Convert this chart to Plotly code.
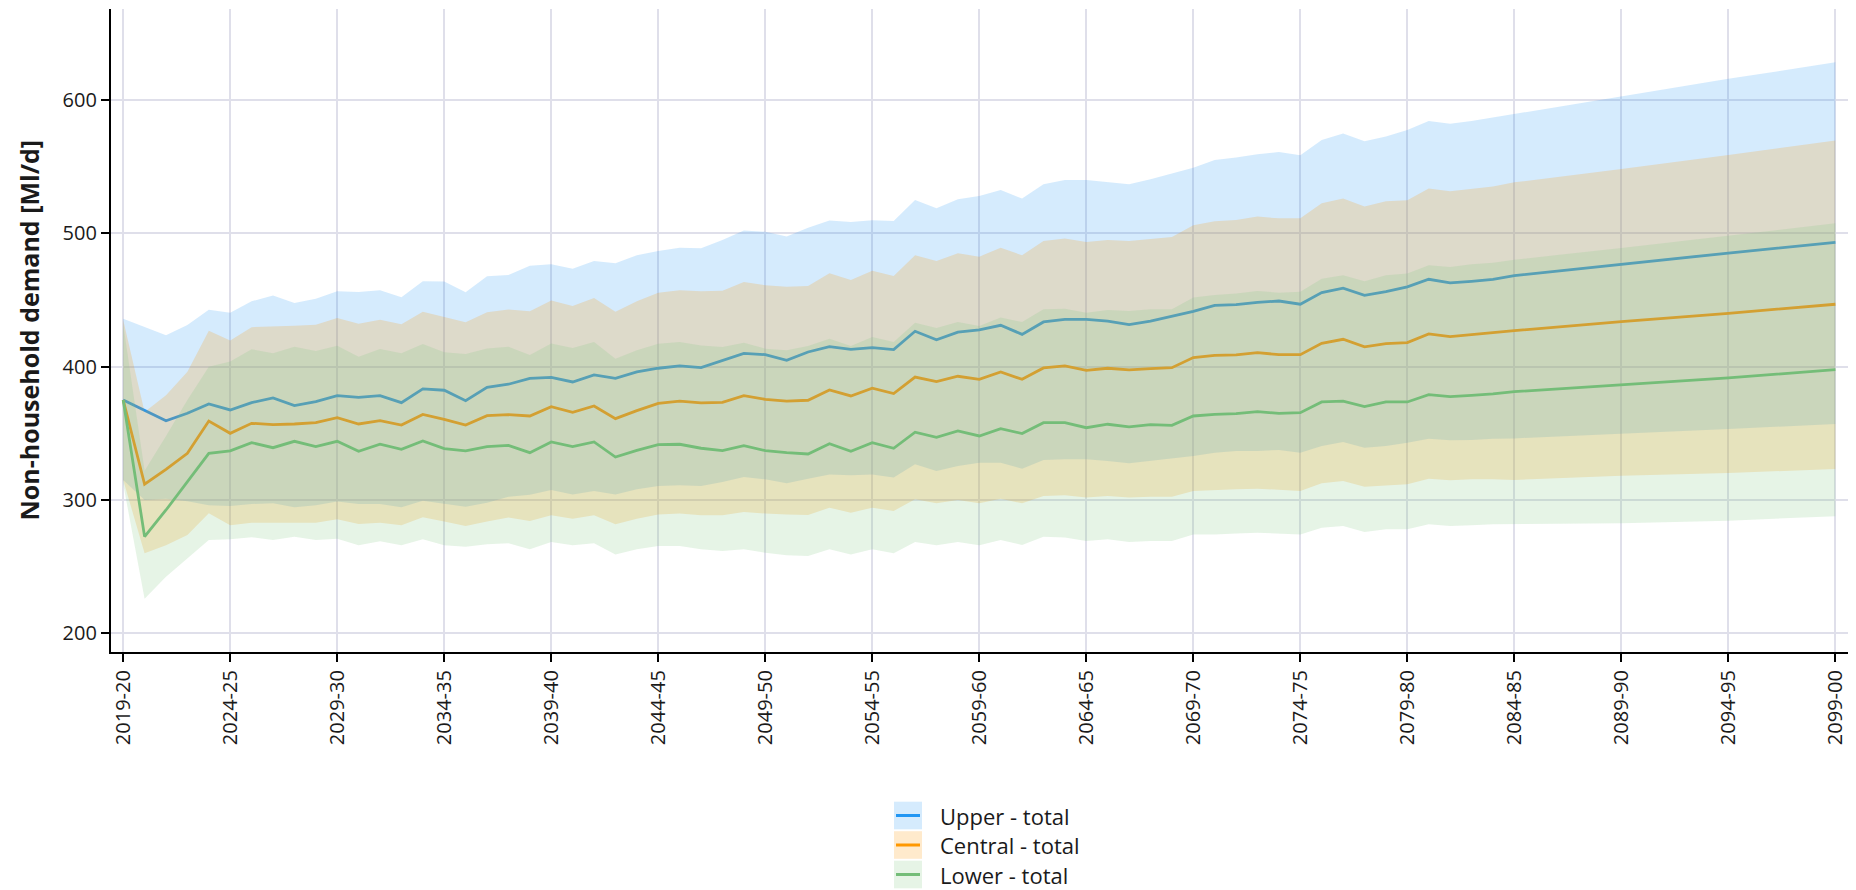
import plotly.graph_objects as go

# Start year of each water year: annual to 2083-84, then every fifth year
start_years = list(range(2019, 2084)) + [2084, 2089, 2094, 2099]

# Central estimates (Ml/d)
upper_total = [375, 367.4, 359.4, 365, 372, 367.5, 373, 376.5, 370.8, 373.7,
               378.2, 377, 378.2, 373, 383.3, 382.3, 374.5, 384.5, 386.8, 391.2,
               392, 388.5, 393.8, 391.2, 396, 398.8, 400.5, 399.2, 404.5, 410,
               409, 404.8, 411, 415, 413, 414.2, 412.8, 426.5, 420.2, 425.8,
               427.5, 431, 424.2, 433.5, 435.5, 435.5, 434.2, 431.5, 434.2, 438,
               441.5, 446, 446.5, 448.2, 449.2, 446.8, 455.5, 458.8, 453.5, 456.2,
               459.8, 465.5, 462.8, 464, 465.5,
               468.2, 476.8, 485.2, 493.2]
central_total = [375, 311.8, 323, 335, 359.2, 350, 357.5, 356.5, 357, 358,
                 361.8, 357, 359.5, 356.2, 364.2, 360.5, 356.2, 363.2, 364, 363,
                 370, 365.8, 370.5, 361, 367, 372.5, 374.2, 372.8, 373.2, 378.2,
                 375.5, 374.2, 374.8, 382.5, 378, 383.8, 379.8, 392.2, 388.8, 392.8,
                 390.5, 396, 390.5, 399, 400.5, 397.2, 398.8, 397.5, 398.5, 399.2,
                 406.8, 408.5, 408.8, 410.5, 409, 409, 417.5, 420.5, 414.8, 417.2,
                 418, 424.5, 422.5, 424, 425,
                 427, 433.8, 440, 446.8]
lower_total = [375, 272.5, 292.5, 313.8, 335, 336.8, 343, 339.2, 344, 340,
               344, 336.5, 341.8, 338, 344.2, 338.5, 336.8, 340, 341, 335.5,
               343.5, 340, 343.5, 332.2, 337.2, 341.5, 341.8, 338.8, 337, 340.8,
               337, 335.5, 334.5, 342.2, 336.5, 343, 338.8, 350.8, 347, 351.8,
               348, 353.5, 349.8, 358, 358, 354.2, 356.8, 354.8, 356.5, 356,
               363, 364.2, 364.8, 366.2, 365, 365.5, 373.5, 374.2, 370, 373.5,
               373.5, 379, 377.5, 378.5, 379.5,
               381.2, 386.2, 391.5, 397.8]

# Uncertainty bands (Ml/d)
upper_high = [436, 430, 423.5, 431.3, 442.6, 440.5, 449, 453.3, 447.7, 451,
              456.5, 456, 457.3, 452, 464, 463.8, 455.8, 467.8, 468.8, 475.7,
              476.8, 473.5, 479.2, 477.5, 483.5, 486.8, 489.2, 488.8, 495, 502,
              501.2, 497.5, 504.2, 509.5, 508.5, 509.8, 509.2, 525, 518.8, 525.5,
              528, 532.5, 526, 536.8, 540, 540, 538.5, 536.8, 540.5, 545,
              549.2, 555, 556.8, 559.2, 561, 558.5, 570, 574.8, 569, 572.5,
              577.5, 584.2, 582.2, 584.2, 586.8,
              589.5, 602.5, 615.8, 628.2]
upper_low = [315, 300, 301, 299, 296, 295.5, 297, 297.5, 294.5, 296,
             298.8, 297, 297, 294.5, 299.5, 297, 295, 298, 302.5, 304,
             307.5, 304.2, 306.8, 304.2, 308, 310.5, 311, 310.5, 313.5, 317.2,
             315.5, 312.5, 316, 319.2, 318.5, 319.2, 316.8, 326.8, 321.8, 325.5,
             328, 328, 323.5, 330, 330.5, 330.5, 329.2, 327.5, 329.2, 331,
             333, 335.5, 336.8, 336.8, 337.5, 335.5, 340.5, 343.5, 339.2, 340.5,
             343, 346, 344.8, 345, 346,
             346.2, 349.5, 353.2, 357]
central_high = [435, 366, 378.6, 396.2, 427, 419.6, 429.6, 429.9, 430.7, 431.4,
                436.4, 432.2, 435.2, 431.7, 441.2, 437.2, 433.2, 440.7, 442.8, 441.5,
                449.6, 445.5, 451.5, 441.2, 449, 455.5, 457.2, 456.5, 457, 463.5,
                461, 460, 460.5, 470, 465, 472, 468, 483.5, 479.2, 485,
                482.5, 489.2, 483.5, 494.2, 496, 493.5, 495, 494.2, 495.5, 497.2,
                506, 509, 510, 512.5, 511.2, 511.2, 522.5, 526, 520, 524,
                524.8, 533.5, 531.5, 533, 535,
                538.2, 548.2, 558.8, 569.5]
central_low = [315, 260, 266, 273.8, 290, 281, 283, 283, 283, 283,
               285.5, 282, 283, 281, 287, 283.8, 280.5, 283.8, 286.8, 284.2,
               288.5, 286, 288.5, 281.8, 286, 289.2, 289.8, 288.5, 288.5, 291,
               289.8, 289.2, 288.8, 294.2, 290.5, 294.2, 291.8, 300.5, 297.5, 300,
               297.5, 301, 297.5, 303, 303.5, 301.8, 303, 301.8, 302.5, 302.5,
               306.8, 307.5, 308, 308.5, 307.5, 306.8, 312.5, 314.2, 310, 311,
               311.8, 316, 314.8, 315.5, 315.5,
               315, 318.2, 320.2, 323.2]
lower_high = [432, 322, 348, 375, 400, 403.8, 413, 410, 415, 411.8,
              415.6, 407.5, 413.3, 410, 417, 410.8, 409.5, 413.6, 415, 408.8,
              417.4, 414, 418.5, 406, 412.2, 417.2, 418.5, 415.8, 414.8, 418,
              413.5, 412.2, 415.5, 421, 415.5, 422.2, 418.5, 433, 429, 433.5,
              430.5, 436.8, 433.5, 443, 443.5, 440.5, 442.5, 441.8, 443, 443,
              451.8, 453.8, 454.8, 456.8, 455.5, 456.2, 466, 468.5, 464, 468.5,
              469.8, 476, 474.8, 476.8, 478,
              480.2, 489, 498.2, 507.5]
lower_low = [312, 226, 242.5, 256, 270, 270.5, 272, 270, 272.5, 270,
             271, 266, 269, 266, 270.5, 266, 265, 266.8, 267.5, 263,
             268.5, 266, 267.5, 259.2, 263, 265.5, 265.5, 263, 261.8, 263,
             260.5, 258.5, 258, 263, 259.2, 263, 260, 268.5, 266, 268.5,
             266, 270, 266.2, 272.5, 271.8, 269.2, 270.5, 268.5, 269.2, 269.2,
             274.2, 274.2, 274.8, 275.5, 274.8, 274.2, 279.2, 280.5, 276, 278,
             278, 281.8, 280.5, 281, 281.8,
             281.5, 282.5, 284.5, 287.8]

# Tick positions (every fifth water year) and their labels
tick_years = list(range(2019, 2100, 5))
tick_labels = [f"{y}-{(y + 1) % 100:02d}" for y in tick_years]

series_names = ["Upper - total", "Central - total", "Lower - total"]
legend_line_colors = ["#2196F3", "#FF9800", "#74BD78"]
plot_line_colors = ["#2196F3", "#E8961E", "#74BD78"]
band_colors = ["rgba(33,150,243,0.19)", "rgba(255,152,0,0.2)", "rgba(129,199,132,0.2)"]

mids = [upper_total, central_total, lower_total]
highs = [upper_high, central_high, lower_high]
lows = [upper_low, central_low, lower_low]

fig = go.Figure()
for name, mid, hi, lo, lc, bc in zip(series_names, mids, highs, lows, plot_line_colors, band_colors):
    fig.add_trace(go.Scatter(
        x=start_years + start_years[::-1],
        y=hi + lo[::-1],
        fill="toself", fillcolor=bc, mode="lines",
        line=dict(width=0, color=bc),
        hoverinfo="skip", showlegend=False, name=name + " range"))
    fig.add_trace(go.Scatter(
        x=start_years, y=mid, mode="lines", name=name,
        line=dict(color=lc, width=2.8), showlegend=False))

# Plot-area geometry in pixels (used for the hand-built legend and title)
W, H = 1856, 890
L, R, T, B = 111, 1848, 9, 652


def px_x(px):
    return (px - L) / (R - L)


def px_y(py):
    return (B - py) / (B - T)


shapes = []
annotations = []
row_centres = [815.5, 845, 874.5]
for name, lc, bc, yc in zip(series_names, legend_line_colors, band_colors, row_centres):
    shapes.append(dict(type="rect", xref="paper", yref="paper",
                       x0=px_x(894), x1=px_x(922), y0=px_y(yc + 13.8), y1=px_y(yc - 13.8),
                       fillcolor=bc, line=dict(width=0)))
    shapes.append(dict(type="line", xref="paper", yref="paper",
                       x0=px_x(896), x1=px_x(920), y0=px_y(yc), y1=px_y(yc),
                       line=dict(color=lc, width=3)))
    annotations.append(dict(xref="paper", yref="paper", x=px_x(938), y=px_y(yc),
                            xanchor="left", yanchor="middle", showarrow=False,
                            text=name, font=dict(family="Open Sans", size=22, color="#1a1a1a")))

annotations.append(dict(xref="paper", yref="paper", x=px_x(28), y=0.5,
                        xanchor="center", yanchor="middle", showarrow=False, textangle=-90,
                        text="<b>Non-household demand [Ml/d]</b>",
                        font=dict(family="Open Sans", size=25, color="#1a1a1a")))

axis_common = dict(showline=True, linecolor="black", linewidth=2.2,
                   ticks="outside", ticklen=8, tickwidth=2, tickcolor="black",
                   showgrid=True, gridcolor="#dfdfea", gridwidth=2, zeroline=False,
                   tickfont=dict(family="Open Sans", size=20, color="#1a1a1a"))

fig.update_layout(
    width=W, height=H, autosize=False,
    margin=dict(l=L, r=W - R, t=T, b=H - B),
    paper_bgcolor="white", plot_bgcolor="white",
    showlegend=False,
    xaxis=dict(range=[2018.43, 2099.59], tickvals=tick_years, ticktext=tick_labels,
               tickangle=-90, **axis_common),
    yaxis=dict(range=[186, 668.2], tick0=200, dtick=100, **axis_common),
    shapes=shapes, annotations=annotations,
)

fig.write_html("out.html")
